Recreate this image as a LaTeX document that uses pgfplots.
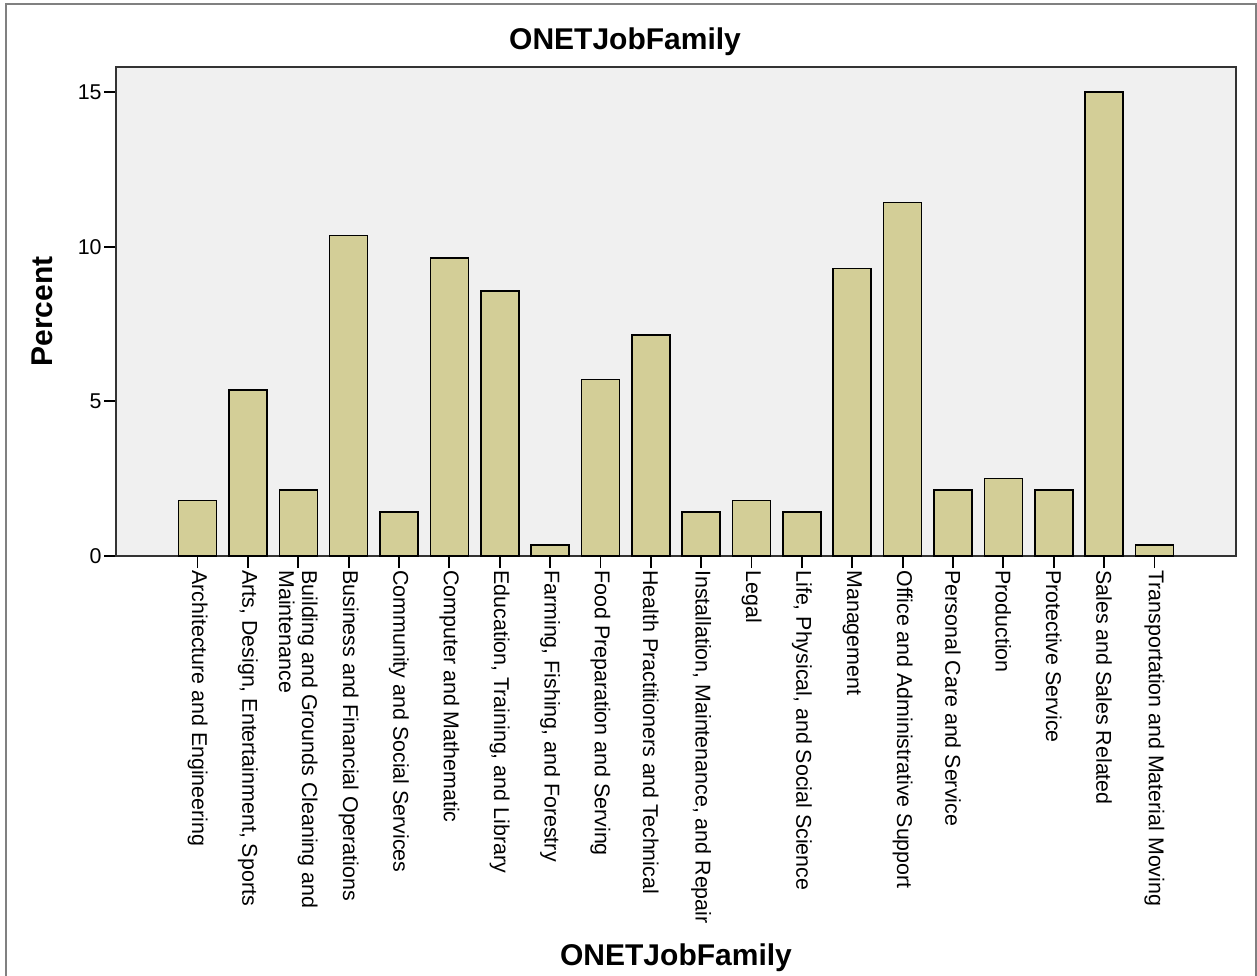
\documentclass[border=0pt]{standalone}
\usepackage{pgfplots}
\pgfplotsset{compat=1.18}
\usepackage{fontspec}
\setmainfont{Liberation Sans}
\definecolor{barfill}{RGB}{211,206,151}
\definecolor{plotbg}{RGB}{240,240,240}
\definecolor{framegray}{RGB}{128,128,128}
\begin{document}
\begin{tikzpicture}
\useasboundingbox (0,0) rectangle (628.5pt,487.5pt);
\fill[white] (0,0) rectangle (628.5pt,487.5pt);
\draw[framegray, line width=0.9pt] (3pt,-2pt) -- (3pt,485.5pt) -- (627.8pt,485.5pt) -- (627.8pt,-2pt);
\begin{axis}[
  at={(58pt,209.5pt)}, anchor=south west,
  scale only axis, width=560pt, height=244.5pt,
  xmin=-1.62, xmax=20.62, ymin=0, ymax=15.81,
  axis background/.style={fill=plotbg},
  axis line style={black!80, line width=0.9pt},
  tick align=outside, tick style={black, line width=0.9pt},
  major tick length=6pt,
  xtick pos=bottom, ytick pos=left,
  xtick={0,...,19},
  xticklabels={
    Architecture and Engineering,
    {Arts, Design, Entertainment, Sports},
    {Building and Grounds Cleaning and\\Maintenance},
    Business and Financial Operations,
    Community and Social Services,
    Computer and Mathematic,
    {Education, Training, and Library},
    {Farming, Fishing, and Forestry},
    Food Preparation and Serving,
    Health Practitioners and Technical,
    {Installation, Maintenance, and Repair},
    Legal,
    {Life, Physical, and Social Science},
    Management,
    Office and Administrative Support,
    Personal Care and Service,
    Production,
    Protective Service,
    Sales and Sales Related,
    Transportation and Material Moving},
  xticklabel style={rotate=-90, anchor=west, align=left, inner sep=1pt,
    font=\fontsize{10.7}{11.5}\selectfont},
  ytick={0,5,10,15},
  yticklabel style={font=\fontsize{10.7}{12}\selectfont, inner sep=1pt},
  /pgf/number format/assume math mode=true,
  ylabel={Percent},
  ylabel style={at={(axis description cs:-0.066,0.5)}, anchor=center, rotate=0,
    font=\fontsize{15}{18}\selectfont\bfseries},
  xlabel={ONETJobFamily},
  xlabel style={at={(axis description cs:0.5,-0.838)}, anchor=base,
    font=\fontsize{15}{18}\selectfont\bfseries},
  title={ONETJobFamily},
  title style={at={(axis description cs:0.4545,1.035)}, anchor=base, yshift=-6pt,
    font=\fontsize{15}{18}\selectfont\bfseries},
  clip=false,
]
\addplot[ybar, bar width=19pt, fill=barfill, draw=black, line width=0.8pt]
coordinates {
 (0,1.79) (1,5.36) (2,2.14) (3,10.36) (4,1.43) (5,9.64) (6,8.57) (7,0.36)
 (8,5.71) (9,7.14) (10,1.43) (11,1.79) (12,1.43) (13,9.29) (14,11.43)
 (15,2.14) (16,2.50) (17,2.14) (18,15.00) (19,0.36)
};
\end{axis}
\end{tikzpicture}
\end{document}
